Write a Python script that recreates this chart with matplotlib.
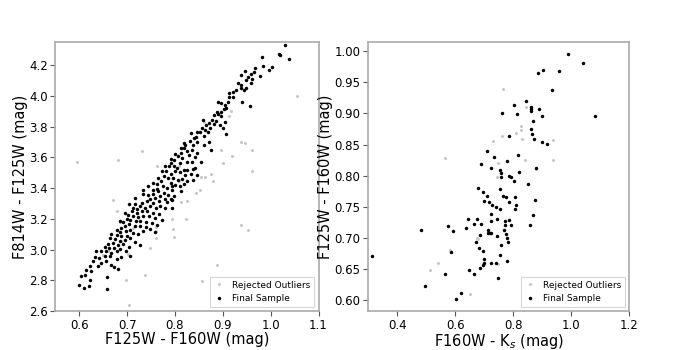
import matplotlib
matplotlib.use('Agg')
import matplotlib.pyplot as plt
import numpy as np

# left panel: F125W-F160W vs F814W-F125W
left_final_x = [1.029, 1.017, 1.019, 1.039, 0.981, 1.003, 0.996, 0.983, 0.967, 0.965, 0.958, 0.977,
                0.947, 0.938, 0.948, 0.958, 0.962, 0.938, 0.939, 0.945, 0.948, 0.921, 0.914, 0.921,
                0.913, 0.940, 0.956, 0.891, 0.905, 0.907, 0.902, 0.887, 0.891, 0.897, 0.904, 0.886,
                0.878, 0.872, 0.881, 0.895, 0.900, 0.907, 0.858, 0.856, 0.863, 0.869, 0.847, 0.861,
                0.872, 0.860, 0.833, 0.839, 0.847, 0.875, 0.837, 0.822, 0.818, 0.826, 0.836, 0.847,
                0.829, 0.812, 0.806, 0.799, 0.815, 0.826, 0.836, 0.811, 0.792, 0.787, 0.798, 0.805,
                0.818, 0.826, 0.842, 0.834, 0.822, 0.810, 0.801, 0.792, 0.782, 0.777, 0.785, 0.796,
                0.806, 0.815, 0.826, 0.837, 0.791, 0.801, 0.810, 0.819, 0.771, 0.762, 0.775, 0.784,
                0.794, 0.762, 0.754, 0.734, 0.765, 0.777, 0.786, 0.755, 0.744, 0.769, 0.759, 0.748,
                0.780, 0.794, 0.766, 0.755, 0.741, 0.731, 0.769, 0.761, 0.748, 0.738, 0.727, 0.717,
                0.720, 0.712, 0.741, 0.731, 0.720, 0.710, 0.755, 0.766, 0.759, 0.745, 0.734, 0.723,
                0.713, 0.702, 0.695, 0.699, 0.707, 0.718, 0.727, 0.740, 0.752, 0.740, 0.727, 0.716,
                0.704, 0.692, 0.685, 0.695, 0.688, 0.706, 0.697, 0.685, 0.678, 0.713, 0.723, 0.700,
                0.688, 0.678, 0.667, 0.706, 0.695, 0.685, 0.674, 0.664, 0.692, 0.681, 0.671, 0.660,
                0.685, 0.672, 0.662, 0.653, 0.678, 0.667, 0.656, 0.646, 0.635, 0.664, 0.653, 0.641,
                0.632, 0.656, 0.646, 0.628, 0.639, 0.623, 0.614, 0.625, 0.612, 0.603, 0.622, 0.600,
                0.609, 0.621, 0.659, 0.658, 0.688, 0.705, 0.727, 0.716, 0.733, 0.748, 0.773, 0.762,
                0.780, 0.784, 0.798, 0.794, 0.759, 0.706, 0.672, 0.681, 0.667, 0.679, 0.697, 0.705,
                0.717, 0.734, 0.743, 0.755, 0.764, 0.773, 0.780, 0.791, 0.801, 0.812, 0.819, 0.832,
                0.843, 0.853, 0.865, 0.874, 0.882, 0.896, 0.896, 0.910, 0.928, 0.932, 0.953, 0.837,
                0.846, 0.794, 0.812, 0.854, 0.841, 0.792]
left_final_y = [4.330, 4.271, 4.265, 4.239, 4.254, 4.185, 4.168, 4.196, 4.178, 4.152, 4.142, 4.131,
                4.161, 4.135, 4.103, 4.081, 4.109, 4.070, 4.049, 4.038, 4.053, 4.023, 4.016, 3.995,
                3.995, 3.962, 3.934, 3.962, 3.941, 3.923, 3.915, 3.897, 3.882, 3.869, 3.832, 3.839,
                3.843, 3.822, 3.815, 3.811, 3.789, 3.752, 3.843, 3.794, 3.778, 3.768, 3.768, 3.739,
                3.703, 3.681, 3.759, 3.724, 3.703, 3.649, 3.681, 3.681, 3.659, 3.642, 3.649, 3.627,
                3.616, 3.627, 3.610, 3.584, 3.595, 3.573, 3.569, 3.562, 3.566, 3.541, 3.545, 3.530,
                3.519, 3.519, 3.530, 3.491, 3.486, 3.504, 3.508, 3.491, 3.508, 3.476, 3.465, 3.465,
                3.454, 3.461, 3.443, 3.454, 3.432, 3.422, 3.411, 3.426, 3.443, 3.428, 3.411, 3.400,
                3.389, 3.396, 3.389, 3.389, 3.378, 3.368, 3.357, 3.361, 3.357, 3.346, 3.335, 3.331,
                3.331, 3.324, 3.314, 3.303, 3.314, 3.303, 3.281, 3.270, 3.281, 3.270, 3.281, 3.296,
                3.265, 3.270, 3.249, 3.249, 3.238, 3.249, 3.238, 3.231, 3.205, 3.216, 3.216, 3.210,
                3.216, 3.227, 3.238, 3.201, 3.195, 3.184, 3.184, 3.179, 3.173, 3.145, 3.151, 3.151,
                3.166, 3.179, 3.188, 3.151, 3.141, 3.130, 3.119, 3.115, 3.130, 3.108, 3.102, 3.091,
                3.086, 3.097, 3.102, 3.076, 3.065, 3.058, 3.071, 3.076, 3.037, 3.032, 3.043, 3.037,
                3.006, 3.011, 3.011, 3.015, 2.989, 2.978, 2.989, 2.993, 2.993, 2.957, 2.957, 2.946,
                2.950, 2.924, 2.914, 2.924, 2.892, 2.892, 2.870, 2.859, 2.838, 2.827, 2.801, 2.773,
                2.751, 2.762, 2.741, 2.823, 2.955, 3.015, 3.032, 3.050, 3.119, 3.134, 3.195, 3.162,
                3.270, 3.309, 3.346, 3.270, 3.115, 2.957, 2.885, 2.877, 2.903, 2.942, 2.989, 3.296,
                3.335, 3.361, 3.411, 3.432, 3.465, 3.513, 3.547, 3.590, 3.621, 3.664, 3.692, 3.707,
                3.735, 3.763, 3.811, 3.789, 3.876, 3.893, 3.951, 3.962, 4.038, 4.081, 4.124, 3.525,
                3.486, 3.411, 3.378, 3.573, 3.605, 3.331]
left_rej_x = [0.596, 0.681, 0.731, 1.056, 0.946, 0.960, 0.960, 0.939, 0.897, 0.900, 0.919, 0.876,
              0.879, 0.862, 0.855, 0.853, 0.844, 0.826, 0.812, 0.824, 0.793, 0.796, 0.798, 0.761,
              0.761, 0.761, 0.748, 0.939, 0.953, 0.888, 0.856, 0.738, 0.697, 0.704, 0.671, 0.679,
              0.685, 0.649, 0.702, 0.688, 0.660, 0.808, 0.762, 0.914, 0.918, 0.861, 0.808, 0.713]
left_rej_y = [3.573, 3.584, 3.642, 4.001, 3.696, 3.649, 3.508, 3.698, 3.649, 3.566, 3.610, 3.491,
              3.443, 3.469, 3.469, 3.389, 3.368, 3.314, 3.309, 3.199, 3.201, 3.136, 3.080, 3.145,
              3.119, 3.076, 3.011, 3.158, 3.130, 2.898, 2.795, 2.834, 2.805, 2.639, 3.320, 3.253,
              3.179, 2.968, 2.972, 3.058, 2.989, 3.541, 3.547, 3.871, 3.902, 3.832, 3.443, 3.141]

# right panel: F160W-Ks vs F125W-F160W
right_final_x = [0.988, 1.042, 0.887, 0.904, 0.956, 0.932, 1.081, 0.845, 0.804, 0.761, 0.813, 0.861,
                 0.861, 0.862, 0.890, 0.899, 0.867, 0.862, 0.866, 0.872, 0.898, 0.916, 0.785, 0.711,
                 0.735, 0.817, 0.688, 0.778, 0.724, 0.755, 0.757, 0.758, 0.786, 0.792, 0.820, 0.804,
                 0.879, 0.850, 0.679, 0.756, 0.697, 0.708, 0.764, 0.776, 0.805, 0.698, 0.717, 0.787,
                 0.727, 0.740, 0.756, 0.809, 0.806, 0.876, 0.725, 0.867, 0.644, 0.676, 0.743, 0.786,
                 0.773, 0.725, 0.636, 0.666, 0.688, 0.792, 0.770, 0.857, 0.576, 0.592, 0.483, 0.768,
                 0.713, 0.713, 0.721, 0.725, 0.685, 0.743, 0.774, 0.780, 0.781, 0.672, 0.759, 0.585,
                 0.683, 0.695, 0.755, 0.314, 0.699, 0.700, 0.697, 0.725, 0.739, 0.778, 0.686, 0.647,
                 0.664, 0.565, 0.749, 0.497, 0.621, 0.604]
right_final_y = [0.995, 0.982, 0.965, 0.970, 0.968, 0.937, 0.896, 0.920, 0.913, 0.901, 0.899, 0.911,
                 0.907, 0.904, 0.907, 0.896, 0.888, 0.875, 0.867, 0.859, 0.854, 0.851, 0.864, 0.840,
                 0.830, 0.833, 0.819, 0.824, 0.812, 0.809, 0.805, 0.798, 0.800, 0.798, 0.806, 0.791,
                 0.813, 0.786, 0.780, 0.779, 0.773, 0.767, 0.768, 0.766, 0.765, 0.759, 0.757, 0.758,
                 0.752, 0.749, 0.747, 0.752, 0.747, 0.761, 0.738, 0.736, 0.730, 0.730, 0.730, 0.728,
                 0.727, 0.727, 0.715, 0.723, 0.722, 0.721, 0.720, 0.720, 0.719, 0.711, 0.712, 0.712,
                 0.712, 0.707, 0.707, 0.707, 0.705, 0.703, 0.706, 0.699, 0.694, 0.694, 0.689, 0.677,
                 0.684, 0.678, 0.673, 0.671, 0.666, 0.660, 0.657, 0.659, 0.659, 0.663, 0.651, 0.648,
                 0.641, 0.641, 0.636, 0.623, 0.611, 0.602]
right_rej_x = [0.765, 0.843, 0.828, 0.828, 0.810, 0.762, 0.829, 0.730, 0.938, 0.564, 0.841, 0.936,
               0.746, 0.743, 0.880, 0.680, 0.675, 0.583, 0.542, 0.512, 0.650, 0.748]
right_rej_y = [0.939, 0.911, 0.880, 0.874, 0.869, 0.863, 0.859, 0.855, 0.857, 0.828, 0.825, 0.825,
               0.821, 0.798, 0.810, 0.698, 0.699, 0.680, 0.659, 0.649, 0.610, 0.658]

REJ_COLOR = '#c8c8c8'
SPINE_COLOR = '#aaaaaa'


def style_axes(ax):
    for side in ['top', 'right', 'left', 'bottom']:
        ax.spines[side].set_color(SPINE_COLOR)
        ax.spines[side].set_linewidth(1.2)
    ax.tick_params(axis='both', which='major', labelsize=8.5, length=3.5, pad=2,
                   direction='out', color='#555555', top=False, right=False)


def draw_panel(ax, rx, ry, fx, fy):
    ax.plot(rx, ry, 'o', color=REJ_COLOR, markersize=2.2, markeredgewidth=0,
            label='Rejected Outliers')
    ax.plot(fx, fy, 'o', color='black', markersize=2.5, markeredgewidth=0,
            label='Final Sample')
    leg = ax.legend(loc='lower right', fontsize=6.5, handlelength=1.2,
                    borderpad=0.4, labelspacing=0.5, fancybox=False)
    leg.get_frame().set_edgecolor('#cccccc')
    leg.get_frame().set_linewidth(0.8)


fig = plt.figure(figsize=(7, 3.5), dpi=100)

ax1 = fig.add_axes([0.079, 0.111, 0.376, 0.769])
draw_panel(ax1, left_rej_x, left_rej_y, left_final_x, left_final_y)
ax1.set_xlim(0.55, 1.1)
ax1.set_ylim(2.6, 4.35)
ax1.set_xticks([0.6, 0.7, 0.8, 0.9, 1.0, 1.1])
ax1.set_yticks([2.6, 2.8, 3.0, 3.2, 3.4, 3.6, 3.8, 4.0, 4.2])
ax1.set_xlabel('F125W - F160W (mag)', fontsize=10.5, labelpad=0)
ax1.set_ylabel('F814W - F125W (mag)', fontsize=10.5, labelpad=1)
style_axes(ax1)

ax2 = fig.add_axes([0.526, 0.111, 0.373, 0.769])
draw_panel(ax2, right_rej_x, right_rej_y, right_final_x, right_final_y)
ax2.set_xlim(0.3, 1.2)
ax2.set_ylim(0.582, 1.015)
ax2.set_xticks([0.4, 0.6, 0.8, 1.0, 1.2])
ax2.set_yticks([0.60, 0.65, 0.70, 0.75, 0.80, 0.85, 0.90, 0.95, 1.00])
ax2.yaxis.set_major_formatter(matplotlib.ticker.FormatStrFormatter('%.2f'))
ax2.set_xlabel('F160W - K$_s$ (mag)', fontsize=10.5, labelpad=0)
ax2.set_ylabel('F125W - F160W (mag)', fontsize=10.5, labelpad=1)
style_axes(ax2)

fig.savefig('out.png', dpi=100)
plt.close(fig)
